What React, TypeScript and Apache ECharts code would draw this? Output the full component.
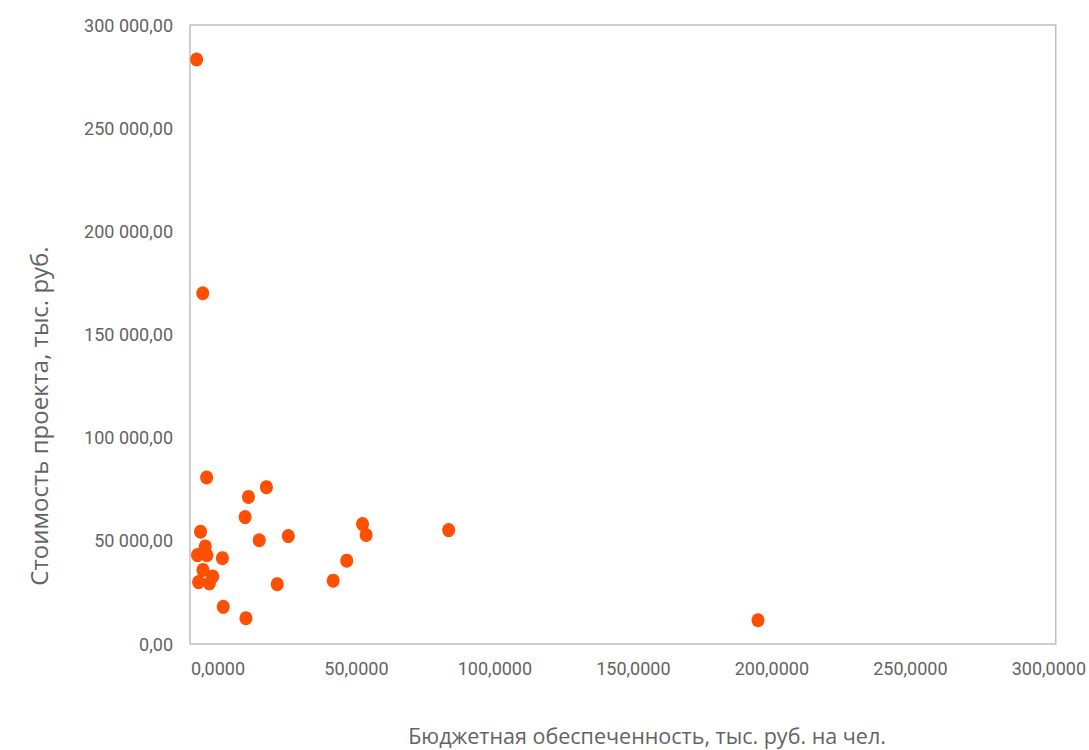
import React, { useEffect, useRef } from "react";
import * as echarts from "echarts";

// Бюджетная обеспеченность, тыс. руб. на чел.
const budgetPerCapita: number[] = [
  -7.7, -5.5, -4.1, 17.5, 11.0, 9.8, -6.3, 25.4, 14.9, 52.2, 53.5, 46.5, 41.6,
  83.3, -4.6, -7.4, -4.0, 1.6, -5.4, -1.9, -7.0, -3.1, 21.4, 1.9, 10.1, 195.0,
];
// Стоимость проекта, тыс. руб.
const projectCost: number[] = [
  283300, 170000, 80700, 76000, 71300, 61500, 54400, 52300, 50300, 58100, 52800,
  40400, 30700, 55200, 47300, 43100, 43000, 41600, 35900, 32700, 30000, 29400,
  29000, 18000, 12500, 11500,
];
const xTickValues: number[] = [0, 50, 100, 150, 200, 250, 300];

const xTitle = "Бюджетная обеспеченность, тыс. руб. на чел.";
const yTitle = "Стоимость проекта, тыс. руб.";

const tickFont = "Roboto, sans-serif";
const titleFont = "'Open Sans', 'Noto Sans', sans-serif";
const textColor = "#636363";

function fmtY(v: number): string {
  const s = Math.round(v).toString().replace(/\B(?=(\d{3})+(?!\d))/g, " ");
  return s + ",00";
}
function fmtX(v: number): string {
  if (!xTickValues.some((t) => Math.abs(t - v) < 1e-6)) return "";
  return v.toFixed(4).replace(".", ",");
}

export default function App() {
  const ref = useRef<HTMLDivElement>(null);
  useEffect(() => {
    if (!ref.current) return;
    const chart = echarts.init(ref.current, null, { renderer: "svg" });
    const data = budgetPerCapita.map((x, i) => [x, projectCost[i]]);
    chart.setOption({
      animation: false,
      backgroundColor: "#ffffff",
      grid: {
        left: 190,
        right: 33,
        top: 25,
        bottom: 106,
        show: true,
        borderColor: "#BFBFBF",
        borderWidth: 1.5,
        backgroundColor: "transparent",
      },
      graphic: [
        {
          type: "text",
          x: 647,
          y: 735,
          style: {
            text: xTitle,
            fontFamily: titleFont,
            fontSize: 21.5,
            fill: textColor,
            align: "center",
            verticalAlign: "middle",
          },
        },
        {
          type: "text",
          x: 38,
          y: 416,
          rotation: Math.PI / 2,
          style: {
            text: yTitle,
            fontFamily: titleFont,
            fontSize: 24,
            fill: textColor,
            align: "center",
            verticalAlign: "middle",
          },
        },
      ],
      xAxis: {
        type: "value",
        min: -10.1,
        max: 302.5,
        axisLine: { show: false },
        axisTick: { show: false },
        splitLine: { show: false },
        axisLabel: {
          formatter: fmtX,
          fontFamily: tickFont,
          fontSize: 18,
          color: textColor,
          margin: 15,
          showMinLabel: true,
          showMaxLabel: true,
          hideOverlap: false,
          interval: 0,
        },
      },
      yAxis: {
        type: "value",
        min: 0,
        max: 300000,
        interval: 50000,
        axisLine: { show: false },
        axisTick: { show: false },
        splitLine: { show: false },
        axisLabel: {
          formatter: fmtY,
          fontFamily: tickFont,
          fontSize: 18,
          color: textColor,
          margin: 17,
        },
      },
      series: [
        {
          type: "scatter",
          data,
          symbol: "circle",
          symbolSize: [13, 14],
          itemStyle: { color: "#FF4F00", opacity: 1 },
        },
      ],
    });
    return () => chart.dispose();
  }, []);
  return (
    <div
      ref={ref}
      style={{ position: "fixed", left: 0, top: 0, width: 1089, height: 750 }}
    />
  );
}
